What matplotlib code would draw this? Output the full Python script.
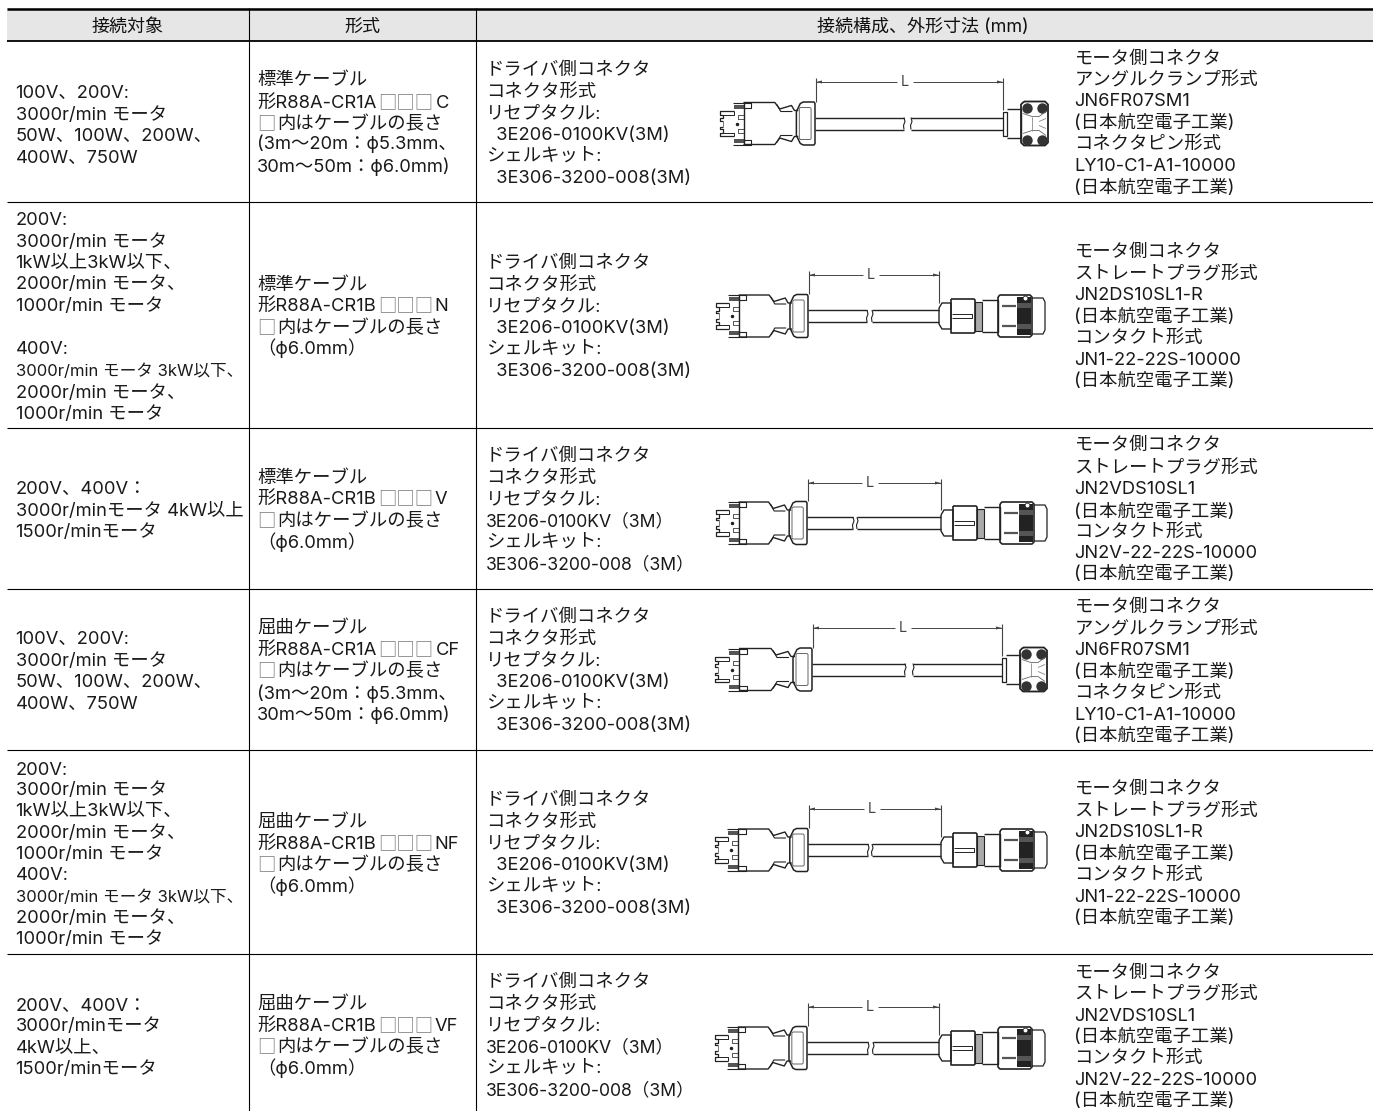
import re
import matplotlib
matplotlib.use('Agg')
import matplotlib.pyplot as plt
from matplotlib.patches import Rectangle

plt.rcParams['font.family'] = ['Inter', 'Noto Sans CJK JP', 'DejaVu Sans']

# table text
headers = ['接続対象', '形式', '接続構成、外形寸法 (mm)']

target_col = [
    ['100V、200V:', '3000r/min モータ', '50W、100W、200W、', '400W、750W'],
    ['200V:', '3000r/min モータ', '1kW以上3kW以下、', '2000r/min モータ、', '1000r/min モータ',
     '400V:', '3000r/min モータ 3kW以下、', '2000r/min モータ、', '1000r/min モータ'],
    ['200V、400V：', '3000r/minモータ 4kW以上', '1500r/minモータ'],
    ['100V、200V:', '3000r/min モータ', '50W、100W、200W、', '400W、750W'],
    ['200V:', '3000r/min モータ', '1kW以上3kW以下、', '2000r/min モータ、', '1000r/min モータ',
     '400V:', '3000r/min モータ 3kW以下、', '2000r/min モータ、', '1000r/min モータ'],
    ['200V、400V：', '3000r/minモータ', '4kW以上、', '1500r/minモータ'],
]
model_col = [
    ['標準ケーブル', '形R88A-CR1A□□□C', '□内はケーブルの長さ', '(3m～20m：ϕ5.3mm、', '30m～50m：ϕ6.0mm)'],
    ['標準ケーブル', '形R88A-CR1B□□□N', '□内はケーブルの長さ', '（ϕ6.0mm）'],
    ['標準ケーブル', '形R88A-CR1B□□□V', '□内はケーブルの長さ', '（ϕ6.0mm）'],
    ['屈曲ケーブル', '形R88A-CR1A□□□CF', '□内はケーブルの長さ', '(3m～20m：ϕ5.3mm、', '30m～50m：ϕ6.0mm)'],
    ['屈曲ケーブル', '形R88A-CR1B□□□NF', '□内はケーブルの長さ', '（ϕ6.0mm）'],
    ['屈曲ケーブル', '形R88A-CR1B□□□VF', '□内はケーブルの長さ', '（ϕ6.0mm）'],
]
driver_a = ['ドライバ側コネクタ', 'コネクタ形式', 'リセプタクル:', '  3E206-0100KV(3M)', 'シェルキット:', '  3E306-3200-008(3M)']
driver_b = ['ドライバ側コネクタ', 'コネクタ形式', 'リセプタクル:', '3E206-0100KV（3M）', 'シェルキット:', '3E306-3200-008（3M）']
driver_col = [driver_a, driver_a, driver_b, driver_a, driver_a, driver_b]
maker = '(日本航空電子工業)'
motor_col = [
    ['モータ側コネクタ', 'アングルクランプ形式', 'JN6FR07SM1', maker, 'コネクタピン形式', 'LY10-C1-A1-10000', maker],
    ['モータ側コネクタ', 'ストレートプラグ形式', 'JN2DS10SL1-R', maker, 'コンタクト形式', 'JN1-22-22S-10000', maker],
    ['モータ側コネクタ', 'ストレートプラグ形式', 'JN2VDS10SL1', maker, 'コンタクト形式', 'JN2V-22-22S-10000', maker],
    ['モータ側コネクタ', 'アングルクランプ形式', 'JN6FR07SM1', maker, 'コネクタピン形式', 'LY10-C1-A1-10000', maker],
    ['モータ側コネクタ', 'ストレートプラグ形式', 'JN2DS10SL1-R', maker, 'コンタクト形式', 'JN1-22-22S-10000', maker],
    ['モータ側コネクタ', 'ストレートプラグ形式', 'JN2VDS10SL1', maker, 'コンタクト形式', 'JN2V-22-22S-10000', maker],
]
motor_kind = ['angle', 'straight', 'straight', 'angle', 'straight', 'straight']

# line centres in pixels, one list per cell
target_y = [
    [92, 114, 135, 157],
    [219, 241, 262, 283, 305, 348, 370, 392, 413],
    [488, 510, 531],
    [638, 660, 681, 703],
    [769, 789, 810, 832, 853, 874, 896, 917, 938],
    [1005, 1025, 1047, 1068],
]
model_y = [
    [79, 102, 123, 143, 166],
    [284, 305, 327, 348],
    [477, 498, 520, 542],
    [627, 649, 670, 693, 714],
    [821, 843, 864, 886],
    [1003, 1025, 1046, 1068],
]
driver_y = [
    [69, 91, 112, 134, 155, 177],
    [262, 284, 305, 327, 348, 370],
    [455, 477, 498, 520, 541, 563],
    [616, 638, 659, 681, 702, 724],
    [799, 821, 842, 864, 885, 907],
    [981, 1003, 1024, 1046, 1067, 1089],
]
motor_y = [
    [58, 79, 100, 122, 143, 165, 187],
    [251, 273, 294, 316, 337, 359, 380],
    [444, 467, 488, 511, 531, 552, 573],
    [606, 628, 649, 671, 692, 714, 735],
    [788, 810, 831, 853, 874, 896, 917],
    [972, 993, 1015, 1036, 1057, 1079, 1100],
]

row_lines = [202, 427.5, 589, 750, 954]

# cable drawing placement per row
plug_left = [720, 716, 716, 715, 715, 715]
plug_right = [815, 808, 807, 812, 808, 807]
cable_y = [123.5, 316, 523, 669.5, 850, 1048]
cable_end = [1003, 939, 941, 1002, 941, 939]
gap_left = [904, 867, 853, 905, 868, 868]
gap_right = [911, 872, 857, 913, 872, 873]
dim_y = [82, 275, 483, 628, 809, 1007]
l_x = [905, 871, 870, 903, 872, 870]

INK = '#222222'
FS = 13.2

fig = plt.figure(figsize=(13.73, 11.11), dpi=100)
ax = fig.add_axes([0, 0, 1, 1])
ax.set_xlim(0, 1373)
ax.set_ylim(1111, 0)
ax.axis('off')
renderer = fig.canvas.get_renderer()


def ln(xs, ys, lw=0.9, color=INK):
    ax.plot(xs, ys, color=color, lw=lw, solid_capstyle='butt', solid_joinstyle='round')


def put_line(x, y, txt, size):
    # the empty boxes are pale in the original, so each run of them is its own text
    for part in re.split('(□+)', txt):
        if not part:
            continue
        if part[0] == '□':
            t = ax.text(x, y, part, ha='left', va='baseline', fontsize=size, color='#777777',
                        family=['Noto Sans CJK JP'])
        else:
            t = ax.text(x, y, part, ha='left', va='baseline', fontsize=size, color='#1a1a1a')
        x += t.get_window_extent(renderer).width + 2


def draw_plug(x0, x1, cy):
    sx = (x1 - x0) / 97
    X = lambda v: x0 + v * sx
    # both halves are mirrored around the cable axis
    for s in (-1, 1):
        ln([X(24), X(56), X(61), X(73), X(76), X(80)],
           [cy + s * 21, cy + s * 21, cy + s * 14.5, cy + s * 18, cy + s * 13, cy + s * 13], lw=1.0)
        ln([X(58), X(62), X(74)], [cy + s * 19, cy + s * 12, cy + s * 12], lw=0.8)
        ln([X(13), X(32), X(32), X(24)], [cy + s * 21, cy + s * 21, cy + s * 16, cy + s * 16], lw=0.8)
        ax.add_patch(Rectangle((X(14), cy + min(s * 15, s * 19)), 10 * sx, 4, color='#555555', lw=0))
        ln([X(14), X(0), X(0), X(3), X(3), X(0), X(0), X(3)],
           [cy + s * 12.7, cy + s * 12.7, cy + s * 9, cy + s * 9, cy + s * 5.5, cy + s * 5.5, cy + s * 3, cy + s * 3], lw=0.9)
        ln([X(3), X(14), X(14)], [cy + s * 9, cy + s * 9, cy + s * 12.7], lw=0.7)
        ln([X(18), X(24), X(24), X(18), X(18)],
           [cy + s * 5, cy + s * 5, cy + s * 9, cy + s * 9, cy + s * 5], lw=0.7, color='#555555')
    ln([X(3), X(3)], [cy - 3, cy + 3], lw=0.7, color='#777777')
    ln([X(24), X(24)], [cy - 21, cy + 21], lw=1.0)
    ax.plot([X(17)], [cy], '.', color=INK, ms=3)
    # collar
    ln([X(78), X(82), X(85), X(96), X(97), X(97), X(96), X(85), X(82), X(78), X(78)],
       [cy - 12, cy - 20, cy - 21.5, cy - 21.5, cy - 20, cy + 20, cy + 21.5, cy + 21.5, cy + 20, cy + 12, cy - 12], lw=1.1)
    ln([X(82), X(92), X(93), X(93), X(92), X(82), X(81), X(81), X(82)],
       [cy - 16, cy - 16, cy - 15, cy + 15, cy + 16, cy + 16, cy + 15, cy - 15, cy - 16], lw=0.7, color='#666666')


def draw_cable(x0, x1, g0, g1, cy):
    for s in (-1, 1):
        ln([x0, g0], [cy + s * 6, cy + s * 6], lw=1.0)
        ln([g1, x1], [cy + s * 6, cy + s * 6], lw=1.0)
    ln([g0, g0 + 1, g0 - 0.5, g0], [cy - 6, cy - 2, cy + 2, cy + 6], lw=0.8)
    ln([g1, g1 + 1, g1 - 0.5, g1], [cy - 6, cy - 2, cy + 2, cy + 6], lw=0.8)


def draw_dim(x0, x1, lx, dy, cy, right_bottom):
    c = '#444444'
    ln([x0, x0], [dy - 4, cy - 22], lw=0.8, color=c)
    ln([x1, x1], [dy - 4, right_bottom], lw=0.8, color=c)
    ln([x0, lx - 8], [dy, dy], lw=0.7, color=c)
    ln([lx + 8, x1], [dy, dy], lw=0.7, color=c)
    ax.fill([x0, x0 + 6, x0 + 6], [dy, dy - 1.5, dy + 1.5], color=c, lw=0)
    ax.fill([x1, x1 - 6, x1 - 6], [dy, dy - 1.5, dy + 1.5], color=c, lw=0)
    ax.text(lx, dy, 'L', ha='center', va='center', fontsize=10.5, color=c)


def draw_angle(x, cy):
    X = lambda v: x + v
    ln([X(0), X(4), X(4), X(0), X(0)], [cy - 12, cy - 12, cy + 12, cy + 12, cy - 12], lw=0.9)
    ln([X(4), X(18), X(18), X(4)], [cy - 14.5, cy - 14.5, cy + 14.5, cy + 14.5], lw=1.0)
    ln([X(21), X(42), X(45), X(45), X(42), X(21), X(18), X(18), X(21)],
       [cy - 22, cy - 22, cy - 19, cy + 19, cy + 22, cy + 22, cy + 19, cy - 19, cy - 22], lw=1.3)
    for sy in (-1, 1):
        for sc in (24, 39):
            ax.plot([X(sc)], [cy + sy * 16], 'o', color='#333333', ms=7.5, mew=0)
    ln([X(20), X(29), X(36), X(43)], [cy - 10, cy - 7, cy - 7, cy - 12], lw=0.6, color='#666666')
    ln([X(20), X(29), X(36), X(43)], [cy + 10, cy + 7, cy + 7, cy + 12], lw=0.6, color='#666666')
    ln([X(29), X(29)], [cy - 7, cy + 7], lw=0.6, color='#888888')
    ln([X(36), X(43)], [cy - 2, cy - 5], lw=0.6, color='#888888')
    ln([X(36), X(43)], [cy + 2, cy + 5], lw=0.6, color='#888888')


def draw_straight(x, cy):
    X = lambda v: x + v
    ln([X(0), X(3), X(12), X(12), X(3), X(0), X(0)],
       [cy - 8, cy - 13, cy - 13, cy + 13, cy + 13, cy + 8, cy - 8], lw=1.0)
    ln([X(12), X(35), X(36), X(36), X(35), X(12), X(12)],
       [cy - 17, cy - 17, cy - 16, cy + 16, cy + 17, cy + 17, cy - 17], lw=1.2)
    ln([X(13), X(33), X(33), X(13)], [cy - 2, cy - 2, cy + 2, cy + 2], lw=0.7)
    ax.add_patch(Rectangle((X(36), cy - 14.5), 7, 29, facecolor='#aaaaaa', edgecolor=INK, lw=0.8))
    ln([X(43), X(59), X(59), X(43)], [cy - 16, cy - 16, cy + 16, cy + 16], lw=1.0)
    ln([X(59), X(61), X(91), X(93), X(93), X(91), X(61), X(59), X(59)],
       [cy - 19, cy - 21, cy - 21, cy - 19, cy + 19, cy + 21, cy + 21, cy + 19, cy - 19], lw=1.2)
    ax.add_patch(Rectangle((X(78), cy - 19), 14, 38, facecolor='#222222', lw=0))
    ax.add_patch(Rectangle((X(78), cy - 13), 14, 5, facecolor='#555555', lw=0))
    ax.add_patch(Rectangle((X(78), cy + 8), 14, 5, facecolor='#555555', lw=0))
    for s in (-1, 1):
        ln([X(63), X(77)], [cy + s * 10, cy + s * 10], lw=1.6, color='#555555')
    ln([X(93), X(104), X(106), X(106), X(104), X(93)],
       [cy - 18, cy - 18, cy - 14, cy + 14, cy + 18, cy + 18], lw=0.9)
    ax.plot([X(86)], [cy - 18], 'o', mfc='white', mec=INK, ms=3.5, mew=0.6)


# table frame
ax.add_patch(Rectangle((7, 8), 1366, 33, facecolor='#e6e6e6', lw=0, zorder=0))
ln([7, 1373], [8.5, 8.5], lw=1.8, color='black')
ln([7, 1373], [41, 41], lw=1.3, color='black')
for y in row_lines:
    ln([7, 1373], [y, y], lw=0.8, color='black')
for x in (249, 476):
    ln([x, x], [8, 1111], lw=0.8, color='black')

for txt, x in zip(headers, (128, 362, 923)):
    ax.text(x, 31.5, txt, ha='center', va='baseline', fontsize=FS - 0.2, color='#111111')

# body text
for col, col_y, x in ((target_col, target_y, 15.5), (model_col, model_y, 257),
                      (driver_col, driver_y, 486), (motor_col, motor_y, 1074.5)):
    for lines, ys in zip(col, col_y):
        for txt, y in zip(lines, ys):
            # these lines are set tighter in the original
            if '3kW以下、' in txt and 'モータ' in txt:
                size = FS - 1.2
            elif '（3M）' in txt:
                size = FS - 0.5
            else:
                size = FS
            put_line(x, y + 6, txt, size)

# cable drawings
for i in range(6):
    cy = cable_y[i]
    draw_plug(plug_left[i], plug_right[i], cy)
    draw_cable(plug_right[i], cable_end[i], gap_left[i], gap_right[i], cy)
    if motor_kind[i] == 'angle':
        draw_angle(cable_end[i], cy)
        draw_dim(plug_right[i] + 1, cable_end[i], l_x[i], dim_y[i], cy, cy - 14)
    else:
        draw_straight(cable_end[i], cy)
        draw_dim(plug_right[i] + 1, cable_end[i], l_x[i], dim_y[i], cy, cy - 13)

plt.savefig('out.png', dpi=100)
